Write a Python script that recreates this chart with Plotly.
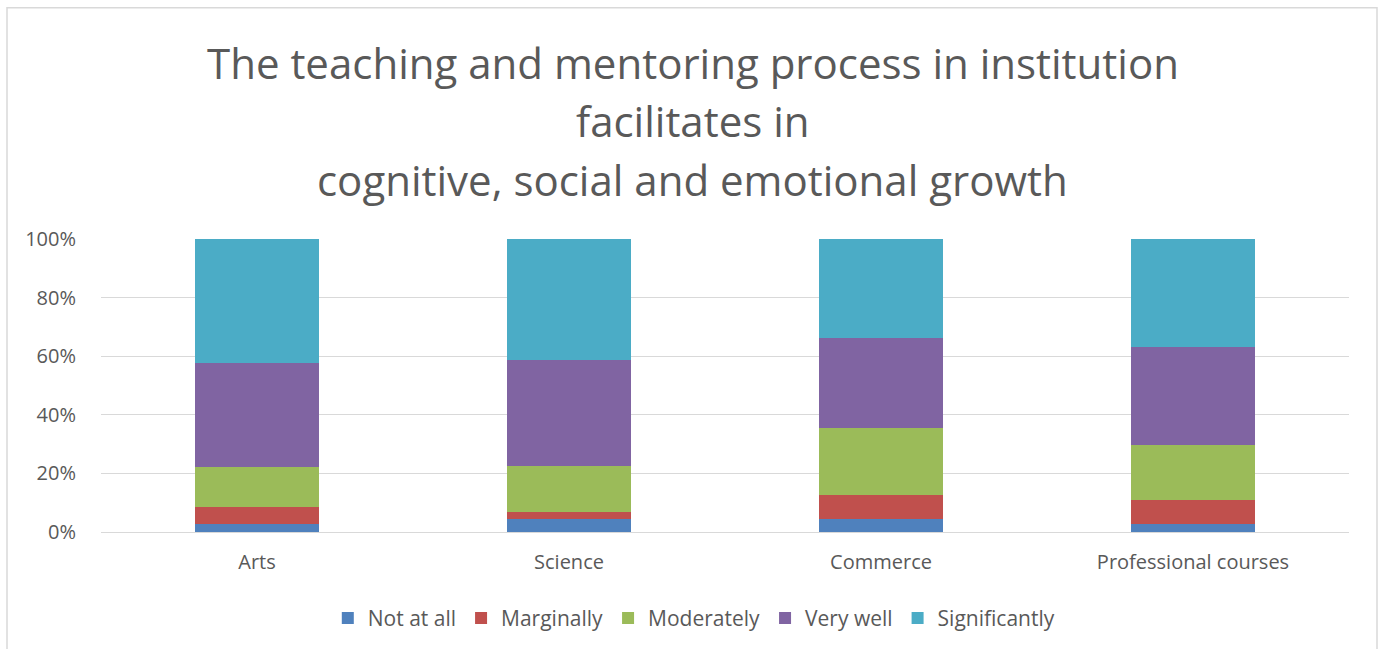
import plotly.graph_objects as go

categories = ['Arts', 'Science', 'Commerce', 'Professional courses']
not_at_all = [2.8, 4.4, 4.5, 2.8]
marginally = [5.6, 2.3, 8.3, 8.0]
moderately = [13.9, 15.9, 22.7, 18.9]
very_well = [35.3, 36.0, 30.8, 33.6]
significantly = [42.4, 41.4, 33.7, 36.7]
title_lines = ['The teaching and mentoring process in institution',
               'facilitates in',
               'cognitive, social and emotional growth']

series = [('Not at all', not_at_all, '#4f81bd'),
          ('Marginally', marginally, '#c0504d'),
          ('Moderately', moderately, '#9bbb59'),
          ('Very well', very_well, '#8064a2'),
          ('Significantly', significantly, '#4bacc6')]

fig = go.Figure()
for name, vals, col in series:
    fig.add_trace(go.Bar(x=categories, y=vals, name=name, marker_color=col,
                         marker_line_width=0))

txt = '#595959'
# title lines placed one by one to get Excel-like line spacing
for line, ypix in zip(title_lines, [62, 120, 179]):
    fig.add_annotation(text=line, xref='paper', yref='paper', x=0.474, y=(533 - ypix) / 294,
                       xanchor='center', yanchor='middle', showarrow=False,
                       font=dict(size=42, color=txt))

fig.update_layout(
    barmode='stack',
    bargap=0.6,
    width=1384, height=649,
    margin=dict(l=101, r=35, t=239, b=116),
    paper_bgcolor='white', plot_bgcolor='white',
    font=dict(family='Open Sans', color=txt),
    legend=dict(orientation='h', x=0.475, xanchor='center', y=-0.29, yanchor='middle',
                font=dict(size=21, color=txt), traceorder='normal'),
    xaxis=dict(tickfont=dict(size=20, color=txt), showline=True, linecolor='#d9d9d9',
               ticks='outside', ticklen=12, tickcolor='white'),
    yaxis=dict(range=[0, 100], dtick=20, ticksuffix='%', tickfont=dict(size=20, color=txt),
               gridcolor='#d9d9d9', zeroline=False, ticks='outside', ticklen=20,
               tickcolor='white'),
    shapes=[dict(type='rect', xref='paper', yref='paper',
                 x0=(7 - 101) / 1248, x1=(1377 - 101) / 1248,
                 y0=(533 - 660) / 294, y1=(533 - 7) / 294,
                 line=dict(color='#d9d9d9', width=1.5))],
)

fig.write_html('out.html', config={'displayModeBar': False},
               post_script="document.body.style.margin='0px';")
